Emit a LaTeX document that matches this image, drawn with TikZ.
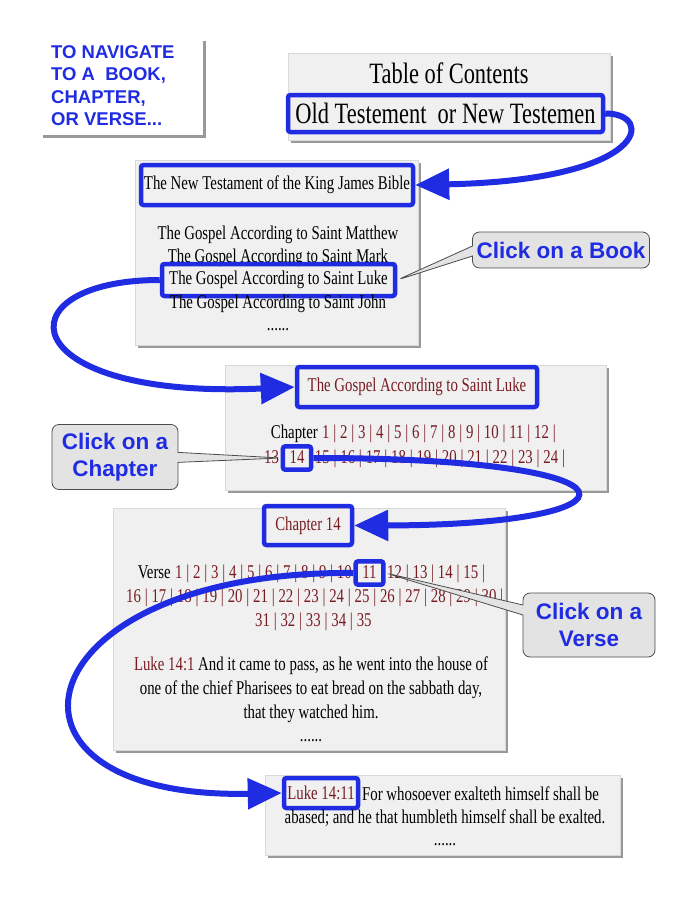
\documentclass[tikz,border=0pt]{standalone}
\usepackage{fontspec}
\setmainfont{Liberation Serif}[FakeStretch=0.76]
\newfontfamily\navsans{Liberation Sans}
\usetikzlibrary{positioning,fit,arrows.meta,shadows,shapes.callouts}
\definecolor{navblue}{RGB}{32,44,226}
\definecolor{verred}{RGB}{120,28,34}
\definecolor{sheetgray}{RGB}{240,240,240}
\newcommand\bodyfont{\fontsize{19.5}{24}\selectfont}
\newcommand\headfont{\fontsize{29.5}{36}\selectfont}
\newcommand\callfont{\navsans\bfseries\fontsize{22.5}{27}\selectfont}
\newcommand\navfont{\navsans\bfseries\fontsize{18.5}{22.5}\selectfont}
\begin{document}
\begin{tikzpicture}[x=1pt,y=-1pt,
  sheet/.style={fill=sheetgray,draw=black!15,anchor=north west,inner sep=0pt,
    drop shadow={shadow xshift=3pt,shadow yshift=-3pt,fill=black!50,opacity=.8}},
  txt/.style={font=\bodyfont,anchor=base,inner sep=0pt},
  hilite/.style={draw=navblue,line width=4.5pt,rounded corners=2.5pt,inner sep=0pt,font=\bodyfont},
  chnum/.style={font=\bodyfont,text=verred,inner xsep=2pt,inner ysep=0pt,text height=13pt,text depth=3pt},
  numsep/.style={chnum,inner xsep=1.4pt},
  flow/.style={draw=navblue,line width=6pt,-{Triangle[length=34pt,width=30pt]}},
  hint/.style={rectangle callout,rounded corners=7pt,fill=black!11,draw=black!70,line width=.8pt,
    text=navblue,font=\callfont,align=center,callout pointer width=10pt}]
\fill[white] (0,0) rectangle (695,900);
\useasboundingbox (0,0) rectangle (695,900);

\node[sheet,fill=white,draw=none,minimum width=163pt,minimum height=97pt] (navsheet) at (40,38) {};
\node[sheet,minimum width=322pt,minimum height=87pt] (tocsheet) at (288,53) {};
\node[sheet,minimum width=283pt,minimum height=185pt] (ntsheet) at (135,160) {};
\node[sheet,minimum width=381pt,minimum height=125pt] (lukesheet) at (225,365) {};
\node[sheet,minimum width=392pt,minimum height=242pt] (ch14sheet) at (113,508) {};
\node[sheet,minimum width=355pt,minimum height=80pt] (versesheet) at (265,775) {};

\node[anchor=north west,inner sep=0pt,align=left,text=navblue,font=\navfont] (navtitle) at (51,45)
  {TO NAVIGATE\\TO A\ \ BOOK,\\CHAPTER,\\OR VERSE...};

\node[txt,font=\headfont] (toctitle) at (449,83) {Table of Contents};
\node[hilite,font=\headfont,minimum width=315pt,minimum height=37pt] (otbox) at (445.5,113.5) {Old Testement\ \ or New Testemen};

\node[hilite,minimum width=272pt,minimum height=40pt] (ntbox) at (277,185) {The New Testament of the King James Bible};
\node[txt] (matthew) at (278,239) {The Gospel According to Saint Matthew};
\node[txt] (mark) at (278,262) {The Gospel According to Saint Mark};
\node[hilite,minimum width=233pt,minimum height=32pt] (lukebox) at (278.5,280) {The Gospel According to Saint Luke};
\node[txt] (john) at (278,308) {The Gospel According to Saint John};
\node[txt] (ntdots) at (278,330) {......};

\node[hilite,text=verred,minimum width=240pt,minimum height=40pt] (gospelbox) at (417,387) {The Gospel According to Saint Luke};
\node[chnum,text=black,anchor=east] (chs0) at (320,433) {Chapter};
\foreach \n [remember=\n as \p (initially 0)] in {1,...,12}{
  \node[chnum,right=0pt of chs\p] (ch\n) {\n};
  \node[numsep,right=0pt of ch\n] (chs\n) {|};
}
\coordinate (chsrow) at (262,458);
\foreach \n [remember=\n as \p (initially row)] in {13,...,24}{
  \node[chnum,right=0pt of chs\p] (ch\n) {\n};
  \node[numsep,right=0pt of ch\n] (chs\n) {|};
}
\node[hilite,fit=(ch14),inner xsep=4.5pt,inner ysep=3.5pt] (chhl) {};

\node[hilite,text=verred,minimum width=88pt,minimum height=39pt] (ch14box) at (308,525.5) {Chapter 14};
\node[chnum,text=black,anchor=east] (vs0) at (173,573) {Verse};
\foreach \n [remember=\n as \p (initially 0)] in {1,...,15}{
  \node[chnum,right=0pt of vs\p] (v\n) {\n};
  \node[numsep,right=0pt of v\n] (vs\n) {|};
}
\coordinate (vsrow) at (124,597);
\foreach \n [remember=\n as \p (initially row)] in {16,...,30}{
  \node[chnum,right=0pt of vs\p] (v\n) {\n};
  \node[numsep,right=0pt of v\n] (vs\n) {|};
}
\coordinate (vsend) at (253,621);
\foreach \n [remember=\n as \p (initially end)] in {31,...,34}{
  \node[chnum,right=0pt of vs\p] (v\n) {\n};
  \node[numsep,right=0pt of v\n] (vs\n) {|};
}
\node[chnum,right=0pt of vs34] (v35) {35};
\node[hilite,fit=(v11),inner xsep=4.5pt,inner ysep=3.5pt] (vhl) {};
\node[txt,anchor=north,align=center] (verse1) at (311,657)
  {\textcolor{verred}{Luke 14:1} And it came to pass, as he went into the house of\\
   one of the chief Pharisees to eat bread on the sabbath day,\\that they watched him.};
\node[txt] (ch14dots) at (311,741) {......};

\node[hilite,text=verred,minimum width=74pt,minimum height=30pt] (lk11box) at (321,793) {Luke 14:11};
\node[txt,anchor=base west] (lk11a) at (362,800) {For whosoever exalteth himself shall be};
\node[txt] (lk11b) at (445,823) {abased; and he that humbleth himself shall be exalted.};
\node[txt] (lk11dots) at (445,845) {......};

\node[hint,minimum width=177pt,minimum height=36pt,callout absolute pointer={(lukebox.east)}] (bookhint) at (561,250) {Click on a Book};
\node[hint,minimum width=126pt,minimum height=65pt,callout absolute pointer={(chhl.west)}] (chhint) at (115,457) {Click on a\\Chapter};
\node[hint,minimum width=132pt,minimum height=64pt,callout absolute pointer={(vhl.east)}] (versehint) at (589,625) {Click on a\\Verse};

\draw[flow] (otbox.east) .. controls (655,113) and (650,180) .. (ntbox.east);
\draw[flow] (lukebox.west) .. controls (0,280) and (10,400) .. (gospelbox.west);
\draw[flow] (chhl.east) .. controls (660,458) and (650,525) .. (ch14box.east);
\draw[flow] (vhl.west) .. controls (20,570) and (-30,800) .. (lk11box.west);
\end{tikzpicture}
\end{document}
